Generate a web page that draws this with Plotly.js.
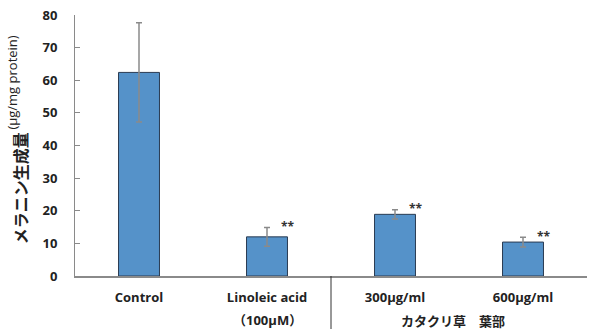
<!DOCTYPE html>
<html><head><meta charset="utf-8">
<script src="https://cdn.plot.ly/plotly-3.0.1.min.js"></script>
<style>body{margin:0;background:#fff}#c{width:589px;height:329px}</style>
</head><body><div id="c"></div>
<script>
const categories = ["Control", "Linoleic acid", "300μg/ml", "600μg/ml"];
const subLabels = ["", "（100μM）", "", ""];
const values = [62.4, 12.0, 18.9, 10.4];
const errors = [15.2, 2.9, 1.4, 1.5];
const stars = ["", "**", "**", "**"];
const groupLabel = "カタクリ草　葉部";
const yTitleMain = "メラニン生成量";
const yTitleUnit = "(μg/mg protein)";
const yTicks = [0, 10, 20, 30, 40, 50, 60, 70, 80];

const F = "'Open Sans', 'Noto Sans CJK JP', sans-serif";
const J = "'Noto Sans CJK JP', sans-serif";
const xs = categories.map((c, i) => i);

const ann = [];
stars.forEach((s, i) => {
  if (!s) return;
  ann.push({x: i, y: values[i] + errors[i], xref: 'x', yref: 'y', text: '<b>' + s + '</b>',
    showarrow: false, xanchor: 'left', yanchor: 'middle', xshift: 12, yshift: 1,
    font: {family: F, size: 12, color: '#333'}});
});
subLabels.forEach((s, i) => {
  if (!s) return;
  ann.push({x: i, y: 0, xref: 'x', yref: 'paper', yshift: -44, text: '<b>' + s + '</b>',
    showarrow: false, xanchor: 'center', yanchor: 'middle', font: {family: F, size: 13, color: '#222'}});
});
ann.push({x: 2.45, y: 0, xref: 'x', yref: 'paper', yshift: -44, text: '<b>' + groupLabel + '</b>',
  showarrow: false, xanchor: 'center', yanchor: 'middle', font: {family: J, size: 13, color: '#222'}});
// y-axis title in two parts
ann.push({x: -0.107, y: 0.337, xref: 'paper', yref: 'paper', textangle: -90,
  text: '<b>' + yTitleMain + '</b>', showarrow: false, xanchor: 'center', yanchor: 'middle',
  font: {family: J, size: 16, color: '#222'}});
ann.push({x: -0.123, y: 0.741, xref: 'paper', yref: 'paper', textangle: -90,
  text: yTitleUnit, showarrow: false, xanchor: 'center', yanchor: 'middle',
  font: {family: "'Open Sans', sans-serif", size: 13, color: '#222'}});

Plotly.newPlot('c', [{
  type: 'bar', x: xs, y: values,
  width: 0.32,
  marker: {color: '#5592c9', line: {color: '#2a3b52', width: 1}},
  error_y: {type: 'data', array: errors, visible: true, color: '#8a8a8a', thickness: 1.5, width: 3}
}], {
  width: 589, height: 329,
  margin: {l: 75, r: 2, t: 15, b: 53},
  paper_bgcolor: '#fff', plot_bgcolor: '#fff',
  showlegend: false, bargap: 0.68,
  xaxis: {range: [-0.5, 3.5], tickvals: xs, ticktext: categories.map(c => '<b>' + c + '</b>'),
    showline: true, linecolor: '#8a8a8a', linewidth: 1.5, ticks: '', showgrid: false, zeroline: false,
    ticklabelstandoff: 9,
    tickfont: {family: F, size: 13, color: '#222'}},
  yaxis: {range: [0, 80], tickvals: yTicks, ticktext: yTicks.map(v => '<b>' + v + '</b>'),
    showline: true, linecolor: '#8a8a8a', linewidth: 1, ticks: 'inside', ticklen: 5, tickcolor: '#8a8a8a',
    showgrid: false, zeroline: false, ticklabelstandoff: 14,
    tickfont: {family: F, size: 13, color: '#222'}},
  shapes: [{type: 'line', xref: 'x', yref: 'paper', x0: 1.5, x1: 1.5, y0: 0, y1: -0.21,
    line: {color: '#333', width: 1}}],
  annotations: ann
}, {staticPlot: true});
</script></body></html>
